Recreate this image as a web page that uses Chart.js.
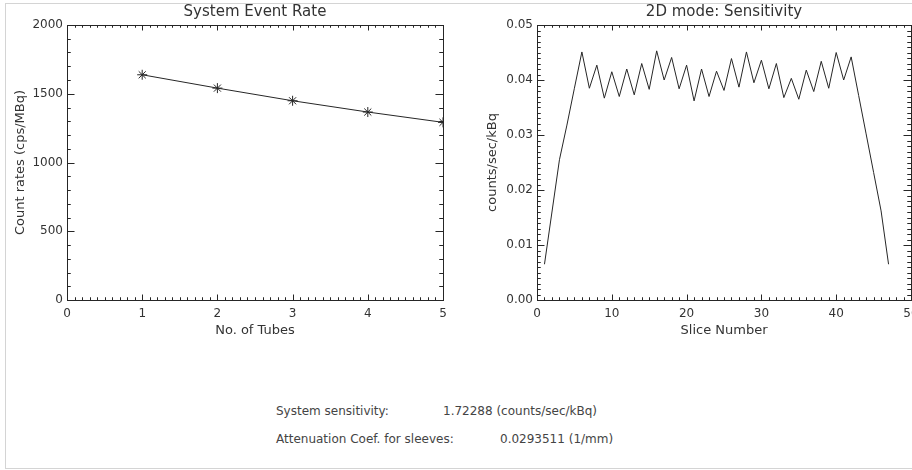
<!DOCTYPE html>
<html>
<head>
<meta charset="utf-8">
<script src="https://cdn.jsdelivr.net/npm/chart.js@4.4.1/dist/chart.umd.min.js"></script>
<style>
  html, body { margin: 0; padding: 0; background: #fff; overflow: hidden; }
  #page { position: relative; width: 912px; height: 470px; overflow: hidden; }
  #frame { position: absolute; left: 5px; top: 3px; width: 1000px; height: 464px; border: 1px solid #d4d4d4; }
  canvas { position: absolute; top: 0; }
  #leftChart { left: 0; }
  #rightChart { left: 460px; }
  .info { position: absolute; font: 12px "DejaVu Sans", sans-serif; line-height: 14px; color: #444; white-space: nowrap; }
</style>
</head>
<body>
<div id="page">
  <div id="frame"></div>
  <canvas id="leftChart" width="470" height="345"></canvas>
  <canvas id="rightChart" width="470" height="345"></canvas>
  <div class="info" style="left:276px; top:404px;">System sensitivity:</div>
  <div class="info" style="left:443px; top:404px;">1.72288 (counts/sec/kBq)</div>
  <div class="info" style="left:276px; top:432px;">Attenuation Coef. for sleeves:</div>
  <div class="info" style="left:500px; top:432px;">0.0293511 (1/mm)</div>
</div>
<script>
// left plot: event rate vs number of tubes
const tubes = [1, 2, 3, 4, 5];
const eventRate = [1638, 1541, 1449, 1367, 1292];
const rateTicks = [0, 500, 1000, 1500, 2000];
const tubeTicks = [0, 1, 2, 3, 4, 5];

// right plot: sensitivity per slice
const slices = [1, 2, 3, 4, 5, 6, 7, 8, 9, 10, 11, 12, 13, 14, 15, 16, 17, 18, 19, 20,
  21, 22, 23, 24, 25, 26, 27, 28, 29, 30, 31, 32, 33, 34, 35, 36, 37, 38, 39, 40,
  41, 42, 43, 44, 45, 46, 47];
const sensitivity = [0.0065, 0.0160, 0.0255, 0.0318, 0.0385, 0.0451, 0.0385, 0.0427, 0.0367, 0.0415,
  0.0370, 0.0420, 0.0373, 0.0430, 0.0383, 0.0453, 0.0400, 0.0441, 0.0384, 0.0427,
  0.0362, 0.0420, 0.0370, 0.0416, 0.0381, 0.0439, 0.0387, 0.0451, 0.0395, 0.0436,
  0.0384, 0.0430, 0.0368, 0.0403, 0.0365, 0.0418, 0.0379, 0.0434, 0.0385, 0.0450,
  0.0400, 0.0442, 0.0372, 0.0302, 0.0232, 0.0162, 0.0065];
const sensTicks = [0, 0.01, 0.02, 0.03, 0.04, 0.05];
const sliceTicks = [0, 10, 20, 30, 40, 50];

Chart.defaults.font.family = '"DejaVu Sans", sans-serif';
Chart.defaults.color = '#333';

const INK = '#262626';

// IDL style tick marks pointing into the plot on all four sides
const idlTicks = {
  id: 'idlTicks',
  afterDraw(chart, args, opts) {
    const { ctx, chartArea: a, scales } = chart;
    const x = scales.x, y = scales.y;
    const xLen = (a.bottom - a.top) * 0.02;
    const yLen = (a.right - a.left) * 0.02;
    ctx.save();
    ctx.strokeStyle = INK;
    ctx.lineWidth = 1;
    ctx.beginPath();
    const nx = Math.round((x.max - x.min) / opts.xMinor);
    for (let i = 0; i <= nx; i++) {
      const px = Math.round(x.getPixelForValue(x.min + i * opts.xMinor)) + 0.5;
      const len = i % opts.xPer === 0 ? xLen : xLen / 2;
      ctx.moveTo(px, a.bottom); ctx.lineTo(px, a.bottom - len);
      ctx.moveTo(px, a.top); ctx.lineTo(px, a.top + len);
    }
    const ny = Math.round((y.max - y.min) / opts.yMinor);
    for (let i = 0; i <= ny; i++) {
      const py = Math.round(y.getPixelForValue(y.min + i * opts.yMinor)) + 0.5;
      const len = i % opts.yPer === 0 ? yLen : yLen / 2;
      ctx.moveTo(a.left, py); ctx.lineTo(a.left + len, py);
      ctx.moveTo(a.right, py); ctx.lineTo(a.right - len, py);
    }
    ctx.stroke();
    ctx.restore();
  }
};

function boxAxes(cfg) {
  const border = { display: true, color: INK, width: 1 };
  const noGrid = { display: false, drawTicks: false };
  return {
    x: {
      type: 'linear', position: 'bottom', min: cfg.xTicks[0], max: cfg.xTicks[cfg.xTicks.length - 1],
      afterBuildTicks: s => { s.ticks = cfg.xTicks.map(v => ({ value: v })); },
      ticks: { font: { size: 12 }, padding: 7, maxRotation: 0, callback: v => String(v) },
      grid: noGrid, border: border,
      title: { display: true, text: cfg.xTitle, font: { size: 13 }, padding: { top: 0, bottom: 7 } },
      afterFit: s => { s.height = cfg.height - cfg.bottom; }
    },
    xTop: {
      type: 'linear', axis: 'x', position: 'top', min: cfg.xTicks[0], max: cfg.xTicks[cfg.xTicks.length - 1],
      ticks: { display: false }, grid: noGrid, border: border,
      title: { display: true, text: cfg.title, font: { size: 15 }, padding: { top: 3, bottom: 0 } },
      afterFit: s => { s.height = cfg.top; }
    },
    y: {
      type: 'linear', position: 'left', min: cfg.yTicks[0], max: cfg.yTicks[cfg.yTicks.length - 1],
      afterBuildTicks: s => { s.ticks = cfg.yTicks.map(v => ({ value: v })); },
      ticks: { font: { size: 12 }, padding: 4, callback: cfg.yFormat },
      grid: noGrid, border: border,
      title: { display: true, text: cfg.yTitle, font: { size: 13 }, padding: { top: cfg.yTitlePad, bottom: 0 } },
      afterFit: s => { s.width = cfg.left; }
    },
    yRight: {
      type: 'linear', axis: 'y', position: 'right', min: cfg.yTicks[0], max: cfg.yTicks[cfg.yTicks.length - 1],
      ticks: { display: false }, grid: noGrid, border: border,
      afterFit: s => { s.width = cfg.width - cfg.right; }
    }
  };
}

new Chart(document.getElementById('leftChart'), {
  type: 'line',
  data: {
    datasets: [{
      data: tubes.map((t, i) => ({ x: t, y: eventRate[i] })),
      borderColor: INK,
      borderWidth: 1,
      pointStyle: 'star',
      pointRadius: 5,
      pointBorderColor: INK,
      pointBorderWidth: 1,
      tension: 0
    }]
  },
  options: {
    responsive: false,
    animation: false,
    layout: { padding: 0 },
    plugins: { legend: { display: false }, tooltip: { enabled: false },
      idlTicks: { xMinor: 0.1, xPer: 10, yMinor: 100, yPer: 5 } },
    scales: boxAxes({
      width: 470, height: 345, left: 67, right: 443, top: 25, bottom: 300,
      xTicks: tubeTicks, yTicks: rateTicks,
      title: 'System Event Rate', xTitle: 'No. of Tubes', yTitle: 'Count rates (cps/MBq)',
      yTitlePad: 13, yFormat: v => String(v)
    })
  },
  plugins: [idlTicks]
});

new Chart(document.getElementById('rightChart'), {
  type: 'line',
  data: {
    datasets: [{
      data: slices.map((s, i) => ({ x: s, y: sensitivity[i] })),
      borderColor: INK,
      borderWidth: 1,
      pointRadius: 0,
      tension: 0
    }]
  },
  options: {
    responsive: false,
    animation: false,
    layout: { padding: 0 },
    plugins: { legend: { display: false }, tooltip: { enabled: false },
      idlTicks: { xMinor: 1, xPer: 10, yMinor: 0.001, yPer: 10 } },
    scales: boxAxes({
      width: 470, height: 345, left: 77, right: 451, top: 25, bottom: 300,
      xTicks: sliceTicks, yTicks: sensTicks,
      title: '2D mode: Sensitivity', xTitle: 'Slice Number', yTitle: 'counts/sec/kBq',
      yTitlePad: 25, yFormat: v => v.toFixed(2)
    })
  },
  plugins: [idlTicks]
});
</script>
</body>
</html>
